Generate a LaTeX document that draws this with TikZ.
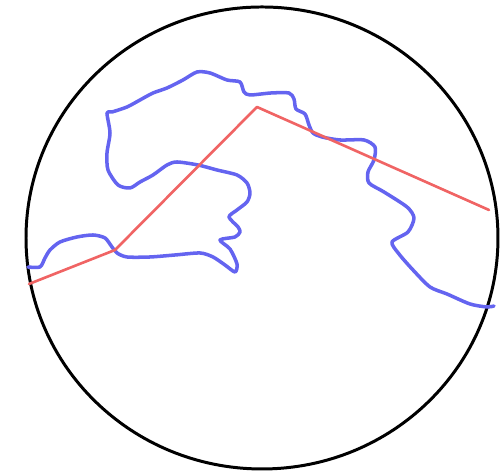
\documentclass[tikz,border=0pt]{standalone}
\usepackage{tikz}
\definecolor{rim}{HTML}{000000}
\definecolor{bluepath}{HTML}{6464F0}
\definecolor{redpath}{HTML}{F06464}
\tikzset{
  every picture/.style={line join=round, line cap=round},
  rimline/.style={rim, line width=0.85pt},
  bluewalk/.style={bluepath, line width=1.0pt},
  redwalk/.style={redpath, line width=0.75pt},
}
\begin{document}
\begin{tikzpicture}[x=0.01cm,y=-0.01cm]
\useasboundingbox (0,0) rectangle (502,474);
\draw[rimline] (262,238) ellipse [x radius=236, y radius=231];
\draw[bluewalk] plot[smooth,tension=0.45] coordinates {
  (28,267) (40,267) (45,258) (50,250) (60,242) (77,237) (93,235) (105,238)
  (112,247) (117,253) (127,257) (150,257) (175,255) (200,253) (213,257)
  (225,265) (235,272) (237,264) (230,249) (220,240) (235,237) (240,232)
  (238,227) (229,217) (237,210) (247,202) (250,193) (247,183) (237,175)
  (217,170) (198,165) (177,162) (167,165) (153,175) (140,182) (130,188)
  (118,185) (108,170) (107,153) (110,133) (107,113) (112,112) (127,107)
  (140,100) (153,93) (167,88) (183,80) (197,72) (210,73) (227,80) (240,82)
  (244,92) (250,95) (271,93) (289,93) (294,99) (296,109) (305,114) (309,125)
  (313,133) (322,137) (340,140) (364,140) (375,147) (374,160) (368,172)
  (369,183) (384,192) (407,207) (414,218) (408,232) (392,242) (399,254)
  (413,270) (430,287) (447,294) (470,304) (487,307) (494,306)
};
\draw[redwalk] (29,284) -- (115,250) -- (257,107) -- (489,210);
\end{tikzpicture}
\end{document}
